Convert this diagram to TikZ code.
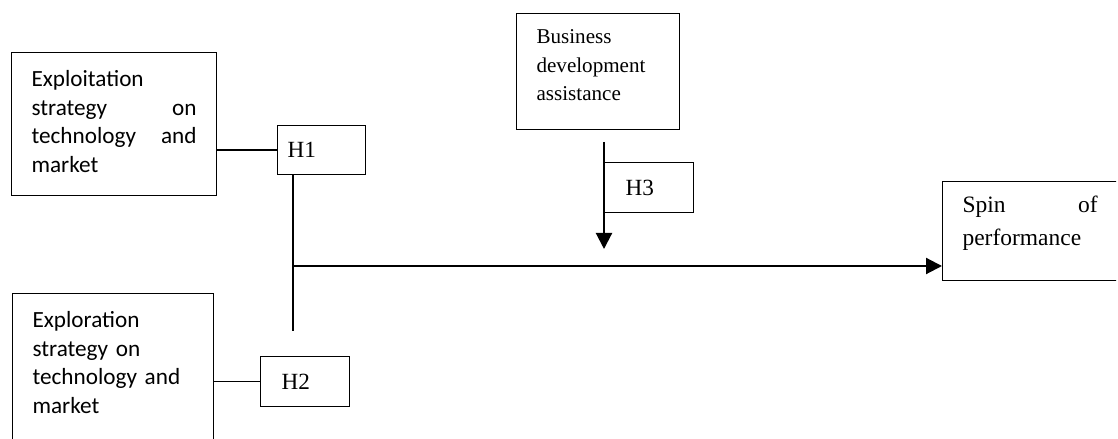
\documentclass[tikz,border=0pt]{standalone}
\usepackage{fontspec}
\setmainfont{Liberation Serif}
\newfontfamily\carlito{Carlito}
\usetikzlibrary{arrows.meta}
\hyphenpenalty=10000
\tolerance=10000
\hbadness=10000

\begin{document}
\begin{tikzpicture}[
	box/.style={draw, line width=0.8pt, anchor=north west, inner ysep=0pt, inner xsep=0.5cm},
	sansbox/.style={box, font=\carlito\fontsize{16.5}{20.3}\selectfont, text width=#1, text height=0.85cm},
	hbox/.style={draw, line width=0.8pt, anchor=north west, minimum height=1.25cm, align=left, font=\fontsize{16.5}{19}\selectfont},
	link/.style={line width=0.8pt},
	arrow/.style={line width=1.5pt, -{Triangle[width=0.4cm, length=0.4cm]}}]
	\useasboundingbox (0,0) rectangle (27.95,10.975);
	\clip (0,0) rectangle (27.9,10.975);
	% Kaesten
	\node[sansbox=4.125cm, align=justify, text depth=2.725cm] (exploit) at (0.275,9.675)
		{Exploitation strategy on technology and market};
	\node[sansbox=4.025cm, align=left, text depth=4cm] (explore) at (0.3,3.65)
		{Exploration strategy on technology and market};
	\node[box, font=\fontsize{15}{20.3}\selectfont, text width=3.075cm, align=left,
		text height=0.75cm, text depth=2.15cm] (bda) at (12.9,10.65)
		{Business development assistance};
	\node[box, font=\fontsize{16.7}{23.5}\selectfont, text width=3.375cm, align=justify,
		text height=0.775cm, text depth=1.7cm] (spin) at (23.55,6.45)
		{Spin of performance};
	% Hypothesen
	\node[hbox, text width=1.7cm, inner xsep=0.25cm, minimum height=1.225cm] (h1) at (6.925,7.85) {H1};
	\node[hbox, text width=1.175cm, inner xsep=0.525cm] (h2) at (6.5,2.075) {H2};
	\node[hbox, text width=1.175cm, inner xsep=0.525cm] (h3) at (15.1,6.925) {H3};
	\coordinate (jn) at (7.325,4.325);
	\coordinate (stemend) at (7.325,2.7);
	\coordinate (h3top) at (15.1,7.425);
	\coordinate (h3tip) at (15.1,4.75);
	% Verbindungen
	\draw[link] (exploit.east |- h1.west) -- (h1.west);
	\draw[link] (explore.east |- h2.west) -- (h2.west);
	\draw[link] (h1.south -| jn) -- (stemend);
	\draw[arrow] (jn) -- (jn -| spin.west);
	\draw[arrow] (h3top) -- (h3tip);
\end{tikzpicture}
\end{document}
